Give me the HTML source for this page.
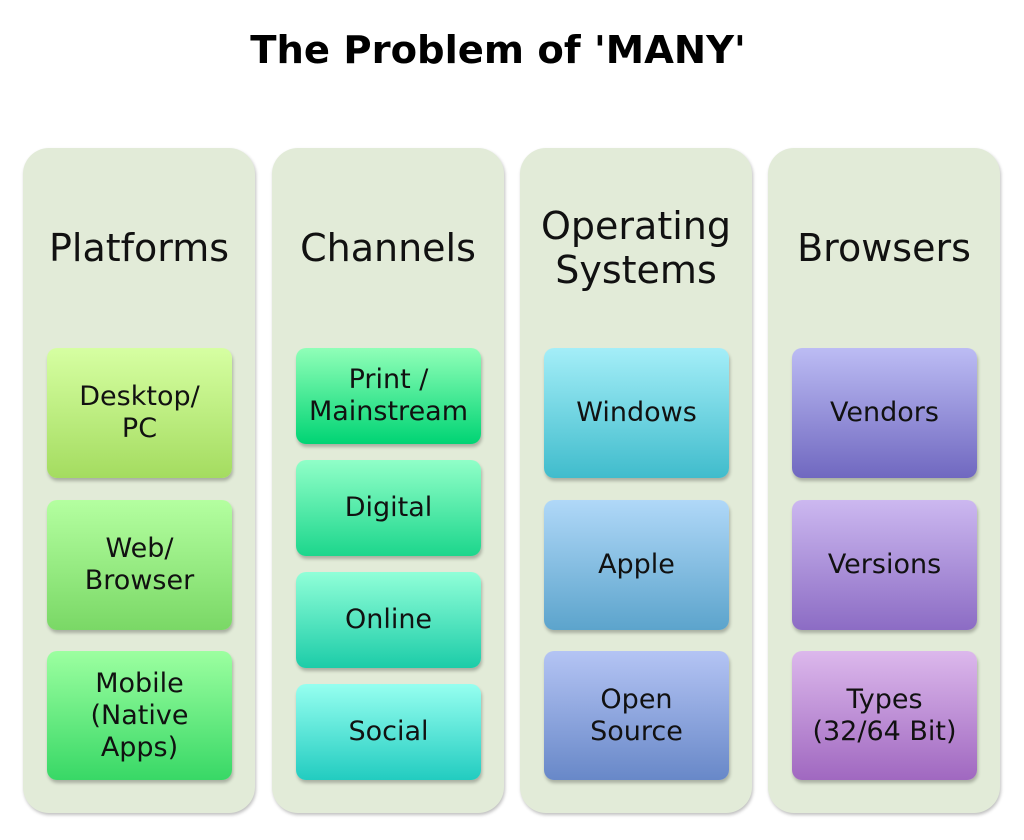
<!DOCTYPE html>
<html><head><meta charset="utf-8"><style>
body{margin:0;width:1024px;height:840px;background:#fff;position:relative;overflow:hidden;font-family:"DejaVu Sans","Liberation Sans",sans-serif;}
.t{position:absolute;left:0;width:996px;top:28px;text-align:center;font:bold 38.5px "DejaVu Sans","Liberation Sans",sans-serif;color:#000}
.col{position:absolute;top:148px;height:665px;width:232px;background:#e2ebd8;border-radius:26px;box-shadow:1px 2px 3px rgba(0,0,0,.25)}
.h{position:absolute;width:232px;text-align:center;font-size:38px;line-height:44px;color:#111}
.b{position:absolute;width:185px;border-radius:10px;display:flex;align-items:center;justify-content:center;text-align:center;font-size:27px;line-height:32px;color:#111;box-shadow:1px 3px 3px rgba(0,0,0,.25)}
</style></head><body>
<div class="t">The Problem of 'MANY'</div>
<div class="col" style="left:23px"><div class="h" style="top:78px">Platforms</div></div>
<div class="col" style="left:272px"><div class="h" style="top:78px">Channels</div></div>
<div class="col" style="left:520px"><div class="h" style="top:56px">Operating<br>Systems</div></div>
<div class="col" style="left:768px"><div class="h" style="top:78px">Browsers</div></div>

<div class="b" style="left:47px;top:348px;height:130px;background:linear-gradient(#d6ffa2,#a4dc60)">Desktop/<br>PC</div>
<div class="b" style="left:47px;top:500px;height:130px;background:linear-gradient(#b4ffa0,#7ad866)">Web/<br>Browser</div>
<div class="b" style="left:47px;top:651px;height:129px;background:linear-gradient(#9cffa0,#38d866)">Mobile<br>(Native<br>Apps)</div>

<div class="b" style="left:296px;top:348px;height:96px;background:linear-gradient(#90ffb8,#00d474)">Print /<br>Mainstream</div>
<div class="b" style="left:296px;top:460px;height:96px;background:linear-gradient(#90ffc8,#1cd68c)">Digital</div>
<div class="b" style="left:296px;top:572px;height:96px;background:linear-gradient(#90ffd8,#1ccca8)">Online</div>
<div class="b" style="left:296px;top:684px;height:96px;background:linear-gradient(#96fff0,#22ccc0)">Social</div>

<div class="b" style="left:544px;top:348px;height:130px;background:linear-gradient(#a4eef8,#40bccc)">Windows</div>
<div class="b" style="left:544px;top:500px;height:130px;background:linear-gradient(#b0d8f8,#5ca4cc)">Apple</div>
<div class="b" style="left:544px;top:651px;height:129px;background:linear-gradient(#b4c4f4,#6888c8)">Open<br>Source</div>

<div class="b" style="left:792px;top:348px;height:130px;background:linear-gradient(#bcbcf4,#7068c0)">Vendors</div>
<div class="b" style="left:792px;top:500px;height:130px;background:linear-gradient(#ccb8f0,#8c6cc4)">Versions</div>
<div class="b" style="left:792px;top:651px;height:129px;background:linear-gradient(#dcb8ec,#a068c0)">Types<br>(32/64 Bit)</div>
</body></html>
